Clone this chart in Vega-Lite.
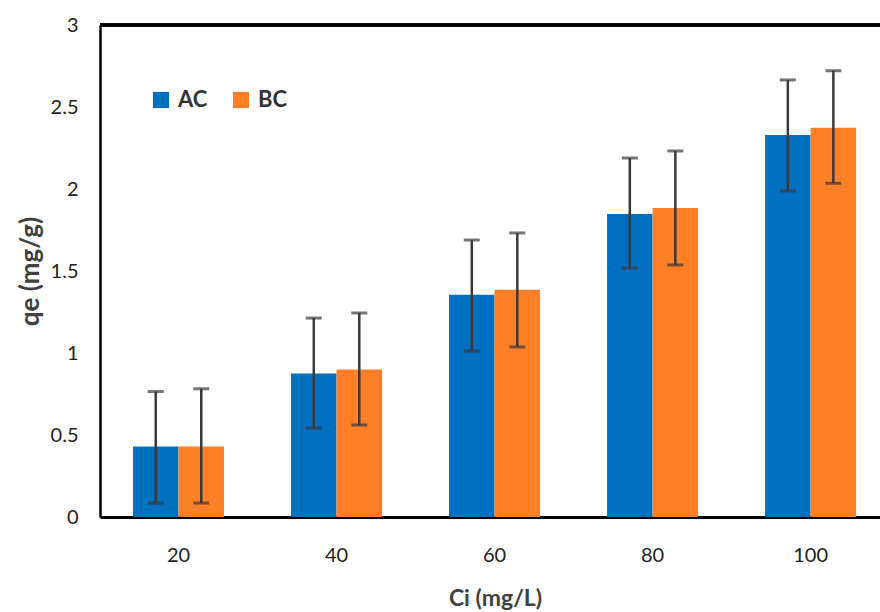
{
  "$schema": "https://vega.github.io/schema/vega-lite/v6.json",
  "autosize": {"type": "none"},
  "width": 780,
  "height": 492,
  "padding": {"left": 100, "top": 25, "right": 0, "bottom": 95},
  "background": "white",
  "config": {
    "view": {"stroke": null},
    "font": "Lato"
  },
  "data": {
    "values": [
      {"ci": "20", "adsorbent": "AC", "qe": 0.43, "lo": 0.085, "hi": 0.765},
      {"ci": "20", "adsorbent": "BC", "qe": 0.43, "lo": 0.085, "hi": 0.782},
      {"ci": "40", "adsorbent": "AC", "qe": 0.875, "lo": 0.542, "hi": 1.213},
      {"ci": "40", "adsorbent": "BC", "qe": 0.90, "lo": 0.561, "hi": 1.244},
      {"ci": "60", "adsorbent": "AC", "qe": 1.355, "lo": 1.012, "hi": 1.689},
      {"ci": "60", "adsorbent": "BC", "qe": 1.385, "lo": 1.037, "hi": 1.732},
      {"ci": "80", "adsorbent": "AC", "qe": 1.848, "lo": 1.518, "hi": 2.189},
      {"ci": "80", "adsorbent": "BC", "qe": 1.884, "lo": 1.537, "hi": 2.232},
      {"ci": "100", "adsorbent": "AC", "qe": 2.329, "lo": 1.988, "hi": 2.665},
      {"ci": "100", "adsorbent": "BC", "qe": 2.374, "lo": 2.035, "hi": 2.721}
    ]
  },
  "layer": [
    {
      "mark": {"type": "bar"},
      "encoding": {
        "x": {
          "field": "ci",
          "type": "nominal",
          "sort": ["20", "40", "60", "80", "100"],
          "scale": {"paddingInner": 0.424, "paddingOuter": 0.18, "align": 0.58},
          "axis": {
            "title": "Ci (mg/L)",
            "labelAngle": 0,
            "labelFontSize": 20,
            "labelColor": "#222222",
            "labelPadding": 28,
            "ticks": false,
            "domainColor": "#000000",
            "domainWidth": 3,
            "titleFontSize": 23,
            "titleFontWeight": "bold",
            "titleColor": "#404040",
            "titleX": 395,
            "titleY": 81,
            "titleBaseline": "middle"
          }
        },
        "xOffset": {"field": "adsorbent", "type": "nominal", "sort": ["AC", "BC"]},
        "y": {
          "field": "qe",
          "type": "quantitative",
          "scale": {"domain": [0, 3], "nice": false},
          "axis": {
            "title": "qe (mg/g)",
            "values": [0, 0.5, 1, 1.5, 2, 2.5, 3],
            "format": "~g",
            "labelFontSize": 20,
            "labelColor": "#222222",
            "labelPadding": 22,
            "ticks": false,
            "grid": false,
            "domainColor": "#000000",
            "domainWidth": 2.5,
            "titleFontSize": 26,
            "titleFontWeight": "bold",
            "titleColor": "#404040",
            "titleX": -70,
            "titleY": 246,
            "titleAngle": -90,
            "titleBaseline": "middle"
          }
        },
        "color": {
          "field": "adsorbent",
          "type": "nominal",
          "sort": ["AC", "BC"],
          "scale": {"domain": ["AC", "BC"], "range": ["#0070C0", "#FF7F27"]},
          "legend": {
            "title": null,
            "orient": "none",
            "legendX": 50,
            "legendY": 64,
            "direction": "horizontal",
            "symbolType": "square",
            "symbolSize": 260,
            "symbolStrokeWidth": 0,
            "labelFontSize": 22,
            "labelFontWeight": "bold",
            "labelColor": "#333333",
            "columnPadding": 22,
            "symbolOffset": 0,
            "labelOffset": 6
          }
        }
      }
    },
    {
      "mark": {"type": "rule", "color": "#3a3a3a", "strokeWidth": 2.5},
      "encoding": {
        "x": {"field": "ci", "type": "nominal", "sort": ["20", "40", "60", "80", "100"]},
        "xOffset": {"field": "adsorbent", "type": "nominal", "sort": ["AC", "BC"]},
        "y": {"field": "lo", "type": "quantitative"},
        "y2": {"field": "hi"}
      }
    },
    {
      "mark": {"type": "tick", "color": "#3a3a3a", "size": 16, "thickness": 3},
      "encoding": {
        "x": {"field": "ci", "type": "nominal", "sort": ["20", "40", "60", "80", "100"]},
        "xOffset": {"field": "adsorbent", "type": "nominal", "sort": ["AC", "BC"]},
        "y": {"field": "hi", "type": "quantitative"}
      }
    },
    {
      "mark": {"type": "tick", "color": "#3a3a3a", "size": 16, "thickness": 3},
      "encoding": {
        "x": {"field": "ci", "type": "nominal", "sort": ["20", "40", "60", "80", "100"]},
        "xOffset": {"field": "adsorbent", "type": "nominal", "sort": ["AC", "BC"]},
        "y": {"field": "lo", "type": "quantitative"}
      }
    },
    {
      "mark": {"type": "rule", "color": "#000000", "strokeWidth": 2.5},
      "encoding": {
        "y": {"datum": 3, "type": "quantitative"},
        "x": {"value": 0},
        "x2": {"value": 900}
      }
    }
  ]
}
